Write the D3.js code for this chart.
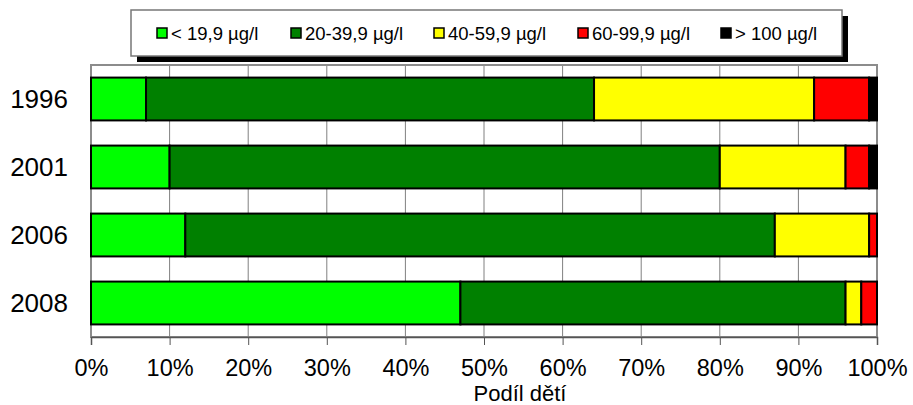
<!DOCTYPE html>
<html>
<head>
<meta charset="utf-8">
<script src="https://cdn.jsdelivr.net/npm/d3@7"></script>
<style>
  body { margin: 0; background: #fff; }
  svg { font-family: "Liberation Sans", Arial, sans-serif; }
</style>
</head>
<body>
<div id="chart"></div>
<script>
// data
const years = ["1996", "2001", "2006", "2008"];
const groups = ["< 19,9 µg/l", "20-39,9 µg/l", "40-59,9 µg/l", "60-99,9 µg/l", "> 100 µg/l"];
const colors = ["#00ff00", "#008000", "#ffff00", "#ff0000", "#000000"];
const lt20 = [7, 10, 12, 47];
const g20to40 = [57, 70, 75, 49];
const g40to60 = [28, 16, 12, 2];
const g60to100 = [7, 3, 1, 2];
const gt100 = [1, 1, 0, 0];
const xTicks = [0, 10, 20, 30, 40, 50, 60, 70, 80, 90, 100];

const width = 913, height = 405;
const plotLeft = 91, plotRight = 877, plotTop = 65, plotBottom = 337;

const rows = years.map((y, i) => ({
    year: y,
    [groups[0]]: lt20[i],
    [groups[1]]: g20to40[i],
    [groups[2]]: g40to60[i],
    [groups[3]]: g60to100[i],
    [groups[4]]: gt100[i]
}));

const svg = d3.select("#chart").append("svg")
    .attr("width", width)
    .attr("height", height);

const x = d3.scaleLinear().domain([0, 100]).range([plotLeft, plotRight]);
const y = d3.scaleBand().domain(years).range([plotTop, plotBottom])
    .paddingInner(0.37).paddingOuter(0.185);

// grid lines
svg.append("g").selectAll("line")
    .data(xTicks)
    .enter()
    .append("line")
    .attr("x1", d => x(d)).attr("x2", d => x(d))
    .attr("y1", plotTop).attr("y2", plotBottom)
    .attr("stroke", "#808080")
    .attr("stroke-width", 1);

// plot border
svg.append("rect")
    .attr("x", plotLeft).attr("y", plotTop)
    .attr("width", plotRight - plotLeft).attr("height", plotBottom - plotTop)
    .attr("fill", "none")
    .attr("stroke", "#8c8c8c")
    .attr("stroke-width", 2);

// stacked bars
const stack = d3.stack().keys(groups)(rows);
svg.append("g").selectAll("g")
    .data(stack)
    .enter()
    .append("g")
    .attr("fill", (d, i) => colors[i])
    .selectAll("rect")
    .data(d => d.filter(s => s[1] - s[0] > 0))
    .enter()
    .append("rect")
    .attr("x", d => x(d[0]))
    .attr("y", d => y(d.data.year))
    .attr("width", d => x(d[1]) - x(d[0]))
    .attr("height", y.bandwidth())
    .attr("stroke", "#000")
    .attr("stroke-width", 2);

// x axis
const xAxis = d3.axisBottom(x)
    .tickValues(xTicks)
    .tickFormat(d => d + "%")
    .tickSize(8)
    .tickPadding(14);

const xg = svg.append("g")
    .attr("transform", "translate(0," + plotBottom + ")")
    .call(xAxis);
xg.select(".domain").attr("stroke", "#555").attr("stroke-width", 1.5);
xg.selectAll(".tick line").attr("stroke", "#555");
xg.selectAll("text")
    .style("font-size", "23.5px")
    .attr("fill", "#000")
    .style("font-family", "Liberation Sans, Arial, sans-serif");

// y labels
svg.append("g").selectAll("text")
    .data(years)
    .enter()
    .append("text")
    .attr("x", 68)
    .attr("y", d => y(d) + y.bandwidth() / 2)
    .attr("dy", "0.36em")
    .attr("text-anchor", "end")
    .style("font-size", "26px")
    .text(d => d);

// x label
svg.append("text")
    .attr("x", 520)
    .attr("y", 401)
    .attr("text-anchor", "middle")
    .style("font-size", "22px")
    .text("Podíl dětí");

// legend
const legend = svg.append("g");
legend.append("rect")
    .attr("x", 137).attr("y", 16)
    .attr("width", 711).attr("height", 46)
    .attr("fill", "#000");
legend.append("rect")
    .attr("x", 131).attr("y", 10)
    .attr("width", 711).attr("height", 46)
    .attr("fill", "#fff")
    .attr("stroke", "#777")
    .attr("stroke-width", 1.5);

const legendX = [157, 291, 434, 578, 721];
const item = legend.selectAll(".item")
    .data(groups)
    .enter()
    .append("g")
    .attr("class", "item")
    .attr("transform", (d, i) => "translate(" + legendX[i] + ",33)");
item.append("rect")
    .attr("x", 0).attr("y", -5)
    .attr("width", 10).attr("height", 10)
    .attr("fill", (d, i) => colors[i])
    .attr("stroke", "#000")
    .attr("stroke-width", 1.5);
item.append("text")
    .attr("x", 14)
    .attr("y", 0)
    .attr("dy", "0.36em")
    .style("font-size", "18.5px")
    .text(d => d);
</script>
</body>
</html>
